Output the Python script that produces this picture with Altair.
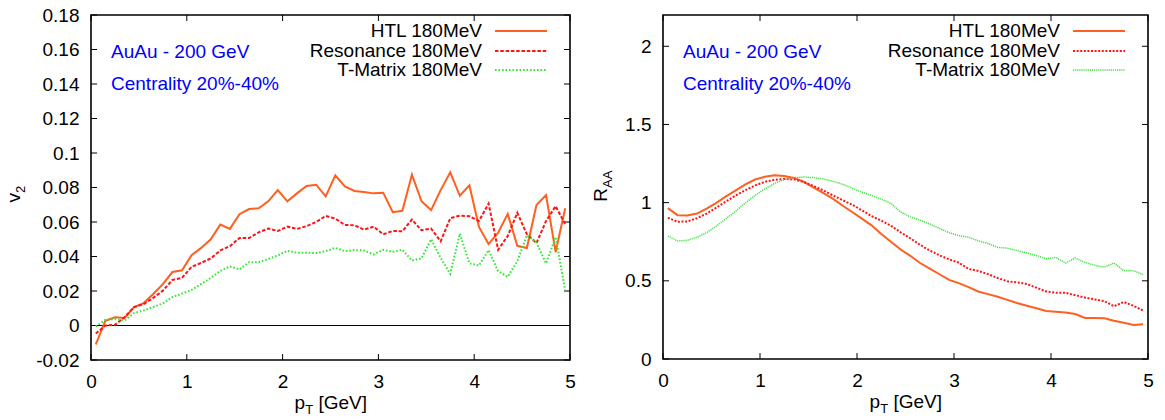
import altair as alt
import pandas as pd

# ---------------- data ----------------
PT = [0.05, 0.15, 0.25, 0.35, 0.45, 0.55, 0.65, 0.75, 0.85, 0.95,
      1.05, 1.15, 1.25, 1.35, 1.45, 1.55, 1.65, 1.75, 1.85, 1.95,
      2.05, 2.15, 2.25, 2.35, 2.45, 2.55, 2.65, 2.75, 2.85, 2.95,
      3.05, 3.15, 3.25, 3.35, 3.45, 3.55, 3.65, 3.75, 3.85, 3.95,
      4.05, 4.15, 4.25, 4.35, 4.45, 4.55, 4.65, 4.75, 4.85, 4.95]

SERIES = ["HTL 180MeV", "Resonance 180MeV", "T-Matrix 180MeV"]

V2_HTL = [-0.0109, 0.0027, 0.0048, 0.0043, 0.0107, 0.013, 0.0183, 0.024, 0.031, 0.032,
          0.0408, 0.045, 0.050, 0.0585, 0.056, 0.0645, 0.0675, 0.068, 0.072, 0.0785,
          0.072, 0.0766, 0.0809, 0.0816, 0.0748, 0.087, 0.0806, 0.078, 0.0774, 0.0766,
          0.077, 0.0657, 0.0665, 0.0875, 0.072, 0.0669, 0.0785, 0.0888, 0.0752, 0.0812,
          0.0571, 0.0472, 0.0538, 0.0647, 0.0462, 0.0449, 0.0698, 0.0756, 0.0426, 0.068]
V2_RES = [-0.0047, 0.0, 0.0004, 0.0048, 0.0107, 0.0124, 0.016, 0.0202, 0.0264, 0.0276,
          0.034, 0.0363, 0.0389, 0.0435, 0.046, 0.0507, 0.0507, 0.054, 0.0562, 0.0548,
          0.0573, 0.056, 0.0576, 0.060, 0.0635, 0.062, 0.0583, 0.0581, 0.0556, 0.0573,
          0.0529, 0.0548, 0.0546, 0.0614, 0.0552, 0.0562, 0.0488, 0.0622, 0.0637, 0.0634,
          0.0606, 0.0707, 0.0439, 0.0519, 0.0653, 0.0529, 0.0478, 0.0606, 0.0692, 0.0587]
V2_TMAT = [-0.0006, 0.0033, 0.0037, 0.0029, 0.0072, 0.0087, 0.0107, 0.0128, 0.0165, 0.0185,
           0.0206, 0.0241, 0.0276, 0.0317, 0.0342, 0.0325, 0.0367, 0.0367, 0.0385, 0.0406,
           0.0433, 0.0422, 0.0422, 0.042, 0.0431, 0.045, 0.0431, 0.0437, 0.0435, 0.0412,
           0.0439, 0.0427, 0.0439, 0.0377, 0.0389, 0.050, 0.0392, 0.0299, 0.0532, 0.036,
           0.0348, 0.0437, 0.0315, 0.0282, 0.0373, 0.0523, 0.048, 0.036, 0.0513, 0.0202]

RAA_HTL = [0.965, 0.92, 0.918, 0.93, 0.962, 0.999, 1.04, 1.078, 1.117, 1.148,
           1.166, 1.175, 1.171, 1.158, 1.134, 1.098, 1.063, 1.026, 0.982, 0.94,
           0.898, 0.855, 0.80, 0.75, 0.70, 0.66, 0.614, 0.578, 0.542, 0.506,
           0.485, 0.46, 0.432, 0.415, 0.398, 0.378, 0.358, 0.341, 0.325, 0.307,
           0.302, 0.298, 0.288, 0.262, 0.262, 0.26, 0.245, 0.232, 0.218, 0.222]
RAA_RES = [0.903, 0.878, 0.88, 0.90, 0.93, 0.968, 1.008, 1.046, 1.08, 1.11,
           1.133, 1.146, 1.151, 1.149, 1.132, 1.107, 1.079, 1.047, 1.016, 0.987,
           0.951, 0.914, 0.885, 0.852, 0.81, 0.772, 0.73, 0.694, 0.663, 0.637,
           0.616, 0.576, 0.563, 0.543, 0.518, 0.497, 0.49, 0.48, 0.456, 0.432,
           0.424, 0.424, 0.408, 0.393, 0.381, 0.37, 0.337, 0.365, 0.34, 0.31]
RAA_TMAT = [0.787, 0.755, 0.759, 0.778, 0.808, 0.85, 0.897, 0.946, 0.999, 1.046,
            1.088, 1.122, 1.147, 1.16, 1.164, 1.16, 1.152, 1.137, 1.118, 1.092,
            1.067, 1.046, 1.022, 0.995, 0.94, 0.909, 0.888, 0.863, 0.835, 0.808,
            0.789, 0.779, 0.756, 0.739, 0.714, 0.709, 0.694, 0.678, 0.662, 0.641,
            0.65, 0.614, 0.646, 0.618, 0.60, 0.587, 0.614, 0.565, 0.565, 0.54]

X_TICKS = [0, 1, 2, 3, 4, 5]
V2_TICKS = [-0.02, 0, 0.02, 0.04, 0.06, 0.08, 0.1, 0.12, 0.14, 0.16, 0.18]
RAA_TICKS = [0, 0.5, 1, 1.5, 2]
X_DOMAIN = [0, 5]
V2_DOMAIN = [-0.02, 0.18]
RAA_DOMAIN = [0, 2.2]
ANNOT = ["AuAu - 200 GeV", "Centrality 20%-40%"]
X_TITLE = ["p", "T", "[GeV]"]
V2_TITLE = ["v", "2"]
RAA_TITLE = ["R", "AA"]

# ---------------- style ----------------
FONT = "Liberation Sans"
FS = 19
TICK_FS = 19
ORANGE = "#ff5f1f"
RED = "#ff1414"
GREEN = "#30e830"

LEFT_STYLES = [
    dict(color=ORANGE, strokeWidth=2),
    dict(color=RED, strokeWidth=2, strokeDash=[3.5, 1.8]),
    dict(color=GREEN, strokeWidth=2, strokeDash=[1.6, 1.9]),
]
RIGHT_STYLES = [
    dict(color=ORANGE, strokeWidth=2),
    dict(color=RED, strokeWidth=2, strokeDash=[2, 1.6]),
    dict(color="#44e044", strokeWidth=1.5, strokeDash=[1.2, 0.9]),
]

LABEL_EXPR = "datum.value < 0 ? '-' + format(-datum.value, '~g') : format(datum.value, '~g')"


def one(v):
    return pd.DataFrame({"s": [v]})


def make_panel(series_vals, styles, y_domain, y_ticks, w, h, ytitle, yt_x, yt_y, zero_line):
    xs = alt.Scale(domain=X_DOMAIN, nice=False, zero=False)
    ys = alt.Scale(domain=y_domain, nice=False, zero=False)
    xaxis = alt.Axis(values=X_TICKS, title=None, grid=False, domain=False, ticks=False, tickSize=0,
                     labelFont=FONT, labelFontSize=TICK_FS, labelColor="black", labelPadding=12,
                     labelFlush=False, labelOverlap=False, labelBound=False, format="~g")
    yaxis = alt.Axis(values=y_ticks, title=None, grid=False, domain=False, ticks=False, tickSize=0,
                     labelFont=FONT, labelFontSize=TICK_FS, labelColor="black", labelPadding=12,
                     labelFlush=False, labelOverlap=False, labelBound=False, labelExpr=LABEL_EXPR)
    layers = []
    xt = pd.DataFrame({"t": X_TICKS})
    yt = pd.DataFrame({"v": y_ticks})
    tick = dict(color="black", strokeWidth=1)
    layers.append(alt.Chart(xt).mark_rule(**tick).encode(
        x=alt.X("t:Q", scale=xs, axis=xaxis), y=alt.value(h), y2=alt.value(h - 6)))
    layers.append(alt.Chart(xt).mark_rule(**tick).encode(
        x=alt.X("t:Q", scale=xs, axis=xaxis), y=alt.value(0), y2=alt.value(6)))
    layers.append(alt.Chart(yt).mark_rule(**tick).encode(
        y=alt.Y("v:Q", scale=ys, axis=yaxis), x=alt.value(0), x2=alt.value(6)))
    layers.append(alt.Chart(yt).mark_rule(**tick).encode(
        y=alt.Y("v:Q", scale=ys, axis=yaxis), x=alt.value(w - 6), x2=alt.value(w)))
    if zero_line:
        layers.append(alt.Chart(pd.DataFrame({"z": [0]})).mark_rule(color="black", strokeWidth=1.2).encode(
            y=alt.Y("z:Q", scale=ys, axis=yaxis), x=alt.value(0), x2=alt.value(w)))

    for name, vals, st in zip(SERIES, series_vals, styles):
        df = pd.DataFrame({"pT": PT, "y": vals})
        layers.append(alt.Chart(df).mark_line(**st).encode(
            x=alt.X("pT:Q", scale=xs, axis=xaxis), y=alt.Y("y:Q", scale=ys, axis=yaxis)))

    # key (gnuplot style, top right)
    rows = [16, 36, 55]
    for name, st, ry in zip(SERIES, styles, rows):
        layers.append(alt.Chart(one(name)).mark_text(
            align="right", baseline="middle", font=FONT, fontSize=FS, color="black").encode(
            text="s:N", x=alt.value(w - 88), y=alt.value(ry)))
        layers.append(alt.Chart(one(name)).mark_rule(**st).encode(
            x=alt.value(w - 75), x2=alt.value(w - 23), y=alt.value(ry)))

    # blue annotations
    for txt, ry in zip(ANNOT, [43, 75]):
        layers.append(alt.Chart(one(txt)).mark_text(
            align="left", baseline="alphabetic", font=FONT, fontSize=FS, color="#0000ff").encode(
            text="s:N", x=alt.value(20), y=alt.value(ry)))

    # x title p_T [GeV]
    c = w / 2
    bx = h + 49
    layers.append(alt.Chart(one(X_TITLE[0])).mark_text(
        align="left", baseline="alphabetic", font=FONT, fontSize=FS, color="black").encode(
        text="s:N", x=alt.value(c - 36), y=alt.value(bx)))
    layers.append(alt.Chart(one(X_TITLE[1])).mark_text(
        align="left", baseline="alphabetic", font=FONT, fontSize=13, color="black", dy=5).encode(
        text="s:N", x=alt.value(c - 25.3), y=alt.value(bx)))
    layers.append(alt.Chart(one(X_TITLE[2])).mark_text(
        align="left", baseline="alphabetic", font=FONT, fontSize=FS, color="black").encode(
        text="s:N", x=alt.value(c - 12), y=alt.value(bx)))

    # y title with subscript (rotated)
    layers.append(alt.Chart(one(ytitle[0])).mark_text(
        align="right", baseline="alphabetic", angle=270, font=FONT, fontSize=FS, color="black").encode(
        text="s:N", x=alt.value(yt_x), y=alt.value(yt_y)))
    layers.append(alt.Chart(one(ytitle[1])).mark_text(
        align="left", baseline="alphabetic", angle=270, font=FONT, fontSize=13, color="black", dy=5).encode(
        text="s:N", x=alt.value(yt_x), y=alt.value(yt_y)))

    return alt.layer(*layers).properties(width=w, height=h)


left = make_panel([V2_HTL, V2_RES, V2_TMAT], LEFT_STYLES, V2_DOMAIN, V2_TICKS,
                  479, 345, V2_TITLE, -71, 178, True)
right = make_panel([RAA_HTL, RAA_RES, RAA_TMAT], RIGHT_STYLES, RAA_DOMAIN, RAA_TICKS,
                   485, 344, RAA_TITLE, -56, 173, False)

chart = alt.hconcat(left, right, spacing=93, bounds="flush").properties(
    padding={"left": 4, "top": 5, "right": 5, "bottom": 2},
    background="white",
).configure_view(stroke="black", strokeWidth=1.6)

chart.save("out.html", embed_options={"renderer": "svg", "actions": False})
